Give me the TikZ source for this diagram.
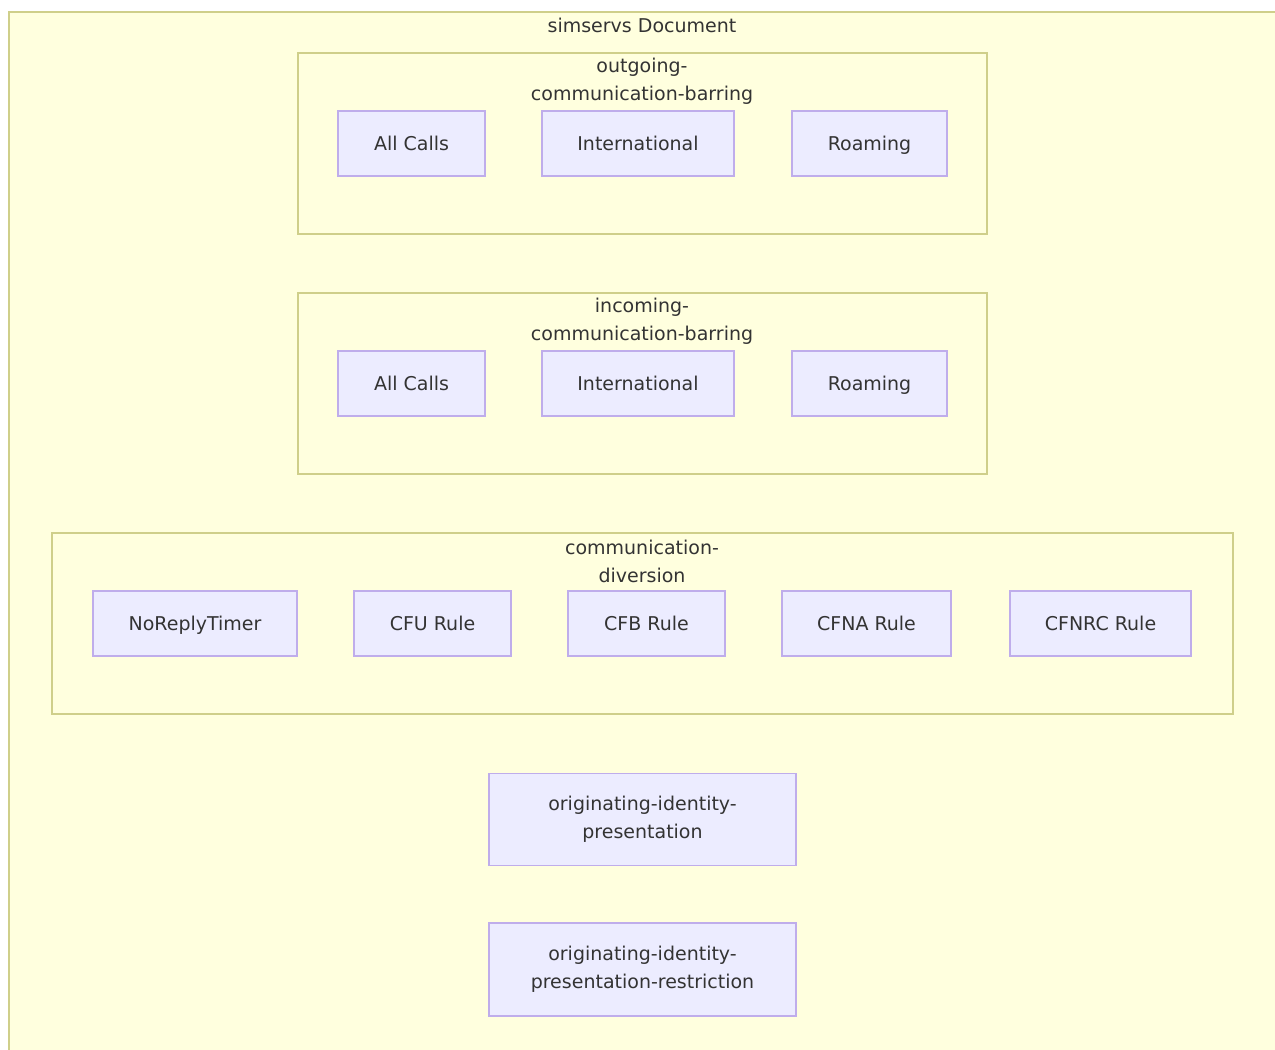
\documentclass[tikz,border=0pt]{standalone}
\usepackage{fontspec}
\setmainfont{DejaVu Sans}
\definecolor{clusterfill}{HTML}{FFFFDE}
\definecolor{clusterline}{HTML}{CFCF8A}
\definecolor{itemfill}{HTML}{ECECFF}
\definecolor{itemline}{HTML}{BFADEB}
\definecolor{labeltext}{HTML}{333333}
\newcommand{\labelfont}{\fontsize{19}{28}\selectfont}

\begin{document}
\begin{tikzpicture}[x=1pt,y=-1pt]
  \tikzstyle{cluster}=[draw=clusterline,fill=clusterfill,line width=1.5pt,inner sep=0pt]
  \tikzstyle{item}=[draw=itemline,fill=itemfill,line width=1.5pt,inner sep=0pt,
  text=labeltext,font=\labelfont,align=center]
  \tikzstyle{leaf}=[item,minimum height=65pt,text height=14pt,text depth=0pt]
  \tikzstyle{title}=[text=labeltext,font=\labelfont,align=center,inner sep=0pt]
  \useasboundingbox (0,0) rectangle (1275,1050);
  % outer document box, runs off the page on the right and bottom
  \node[cluster,anchor=north west,minimum width=1290pt,minimum height=1060pt](doc) at (8,11){};
  \node[title](doctitle) at (642,25){simservs Document};
  % outgoing barring
  \node[cluster,minimum width=689pt,minimum height=181pt](ocb) at (642.5,143.5){};
  \node[title](ocbtitle) at (642,81){outgoing-\\communication-barring};
  \node[leaf,minimum width=147pt](ocball) at (411.5,143.5){All Calls};
  \node[leaf,minimum width=192pt](ocbint) at (638,143.5){International};
  \node[leaf,minimum width=155pt](ocbroam) at (869.5,143.5){Roaming};
  % incoming barring
  \node[cluster,minimum width=689pt,minimum height=181pt](icb) at (642.5,383.5){};
  \node[title](icbtitle) at (642,321){incoming-\\communication-barring};
  \node[leaf,minimum width=147pt](icball) at (411.5,383.5){All Calls};
  \node[leaf,minimum width=192pt](icbint) at (638,383.5){International};
  \node[leaf,minimum width=155pt](icbroam) at (869.5,383.5){Roaming};
  % diversion
  \node[cluster,minimum width=1181pt,minimum height=181pt](cdiv) at (642.5,623.5){};
  \node[title](cdivtitle) at (642,561.5){communication-\\diversion};
  \node[leaf,minimum width=204pt](noreply) at (195,623.5){NoReplyTimer};
  \node[leaf,minimum width=157pt](cfu) at (432.5,623.5){CFU Rule};
  \node[leaf,minimum width=157pt](cfb) at (646.5,623.5){CFB Rule};
  \node[leaf,minimum width=169pt](cfna) at (866.5,623.5){CFNA Rule};
  \node[leaf,minimum width=181pt](cfnrc) at (1100.5,623.5){CFNRC Rule};
  % identity presentation
  \node[item,minimum width=307pt,minimum height=92pt](oip) at (642.5,819.5){originating-identity-\\presentation};
  \node[item,minimum width=307pt,minimum height=93pt](oir) at (642.5,969.5){originating-identity-\\presentation-restriction};
\end{tikzpicture}
\end{document}
